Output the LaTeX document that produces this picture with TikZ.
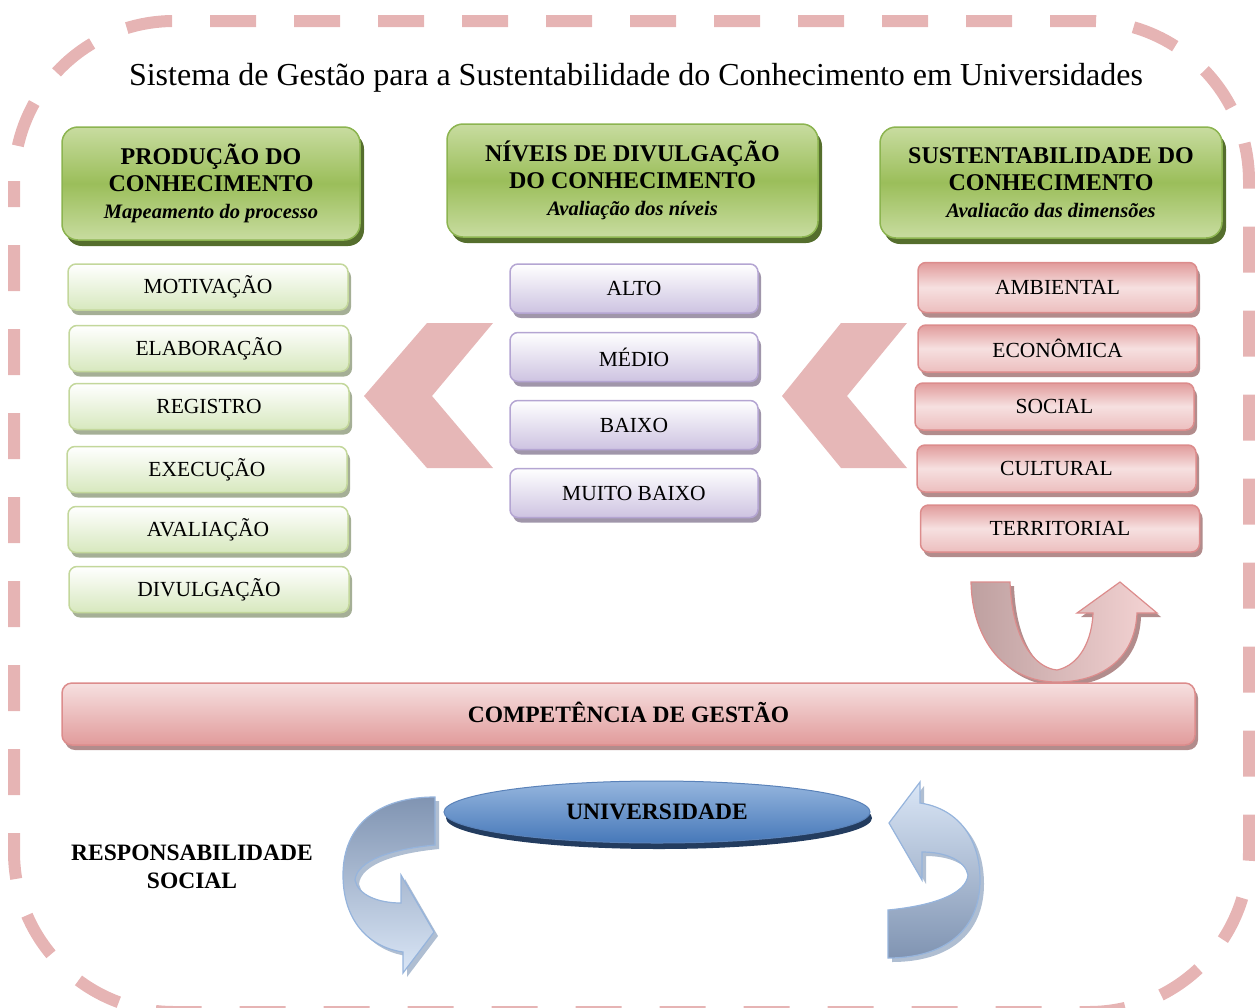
\documentclass[tikz,border=0pt]{standalone}
\usepackage{fontspec}
\setmainfont{Liberation Serif}
\usetikzlibrary{shadows,shapes.geometric}
\definecolor{dashc}{RGB}{230,180,180}
\definecolor{hdrL}{RGB}{200,220,160}
\definecolor{hdrD}{RGB}{155,190,90}
\definecolor{hdrB}{RGB}{140,180,80}
\definecolor{hdrS}{RGB}{85,110,45}
\definecolor{gL}{RGB}{215,232,190}
\definecolor{gB}{RGB}{195,215,155}
\definecolor{gS}{RGB}{165,175,150}
\definecolor{puL}{RGB}{205,195,225}
\definecolor{puB}{RGB}{180,165,210}
\definecolor{puS}{RGB}{160,150,170}
\definecolor{pkD}{RGB}{225,155,155}
\definecolor{pkL}{RGB}{246,224,224}
\definecolor{pkM}{RGB}{236,190,190}
\definecolor{pkB}{RGB}{220,140,140}
\definecolor{pkS}{RGB}{178,140,140}
\definecolor{chev}{RGB}{230,183,183}
\definecolor{blT}{RGB}{150,182,222}
\definecolor{blD}{RGB}{70,120,185}
\definecolor{blS}{RGB}{35,60,95}
\definecolor{blB}{RGB}{90,130,185}
\definecolor{arL}{RGB}{218,230,246}
\definecolor{arD}{RGB}{128,148,178}
\definecolor{arB}{RGB}{150,180,220}
\definecolor{arS}{RGB}{175,190,210}
\definecolor{uL}{RGB}{245,212,212}
\definecolor{uD}{RGB}{190,160,160}
\begin{document}
\begin{tikzpicture}[x=1pt,y=-1pt,
  hdr/.style={draw=hdrB, line width=1.5pt, rounded corners=16pt,
    top color=hdrL, bottom color=hdrL, middle color=hdrD, align=center, inner sep=0pt,
    font=\fontsize{24}{27}\selectfont\bfseries,
    drop shadow={shadow xshift=4pt, shadow yshift=-6pt, fill=hdrS, opacity=1}},
  gbox/.style={draw=gB, line width=1.5pt, rounded corners=8pt, top color=white, bottom color=gL,
    minimum width=280pt, minimum height=46pt, inner sep=0pt, font=\fontsize{21.5}{25}\selectfont,
    drop shadow={shadow xshift=3pt, shadow yshift=-5pt, fill=gS, opacity=1}},
  pbox/.style={draw=puB, line width=1.5pt, rounded corners=8pt, top color=white, bottom color=puL,
    minimum width=248pt, minimum height=49pt, inner sep=0pt, font=\fontsize{21.5}{25}\selectfont,
    drop shadow={shadow xshift=3pt, shadow yshift=-5pt, fill=puS, opacity=1}},
  rbox/.style={draw=pkB, line width=1.5pt, rounded corners=8pt, top color=pkD, bottom color=pkM, middle color=pkL,
    minimum width=279pt, minimum height=47pt, inner sep=0pt, font=\fontsize{21.5}{25}\selectfont,
    drop shadow={shadow xshift=3pt, shadow yshift=-5pt, fill=pkS, opacity=1}},
  rarr/.style={insert path={(888,958) -- (888,910) .. controls (930,906) and (966,895) .. (968,875)
    .. controls (965,860) and (945,852) .. (922,852) -- (922,880) -- (889,823) -- (920,782) -- (920,803)
    .. controls (955,808) and (980,835) .. (980,880) .. controls (980,930) and (945,958) .. (888,958) -- cycle}},
  uarr/.style={insert path={(971,582) -- (1010,582) .. controls (1012,640) and (1035,668) .. (1057,670)
    .. controls (1080,665) and (1092,640) .. (1093,613) -- (1077,613) -- (1120,582) -- (1157,613) -- (1137,613)
    .. controls (1135,660) and (1100,682) .. (1057,682) .. controls (1005,682) and (972,640) .. (971,582) -- cycle}}
]
\useasboundingbox (0,0) rectangle (1255,1007);
% dashed frame
\draw[dashc, line width=12pt, dash pattern=on 46pt off 38pt, dash phase=20pt, rounded corners=160pt]
  (14,21) rectangle (1249,1012);
% title
\node[font=\fontsize{32}{36}\selectfont] (title) at (636,78) {Sistema de Gestão para a Sustentabilidade do Conhecimento em Universidades};
% headers
\node[hdr, minimum width=298pt, minimum height=113pt] (prod) at (211,183.5)
  {PRODUÇÃO DO\\CONHECIMENTO\\{\fontsize{20.5}{27}\selectfont\itshape Mapeamento do processo}};
\node[hdr, minimum width=371pt, minimum height=113pt] (niv) at (632.5,180.5)
  {NÍVEIS DE DIVULGAÇÃO\\DO CONHECIMENTO\\{\fontsize{20.5}{27}\selectfont\itshape Avaliação dos níveis}};
\node[hdr, minimum width=342pt, minimum height=111pt] (sus) at (1051,182.5)
  {SUSTENTABILIDADE DO\\CONHECIMENTO\\{\fontsize{20.5}{27}\selectfont\itshape Avaliacão das dimensões}};
% chevrons
\fill[chev] (427,323) -- (493,323) -- (432,396) -- (493,468) -- (427,468) -- (364,396) -- cycle;
\fill[chev] (841,323) -- (907,323) -- (847,396) -- (907,468) -- (841,468) -- (782,396) -- cycle;
% left boxes
\node[gbox] (mot) at (208,287) {MOTIVAÇÃO};
\node[gbox] (ela) at (209,348.5) {ELABORAÇÃO};
\node[gbox] (reg) at (209,406.5) {REGISTRO};
\node[gbox] (exe) at (207,469.5) {EXECUÇÃO};
\node[gbox] (ava) at (208,529.5) {AVALIAÇÃO};
\node[gbox] (div) at (209,589.5) {DIVULGAÇÃO};
% middle boxes
\node[pbox] (alto) at (634,288.5) {ALTO};
\node[pbox] (medio) at (634,357) {MÉDIO};
\node[pbox] (baixo) at (634,425) {BAIXO};
\node[pbox] (mbaixo) at (634,493) {MUITO BAIXO};
% right boxes
\node[rbox, minimum height=50pt] (amb) at (1057.5,287.5) {AMBIENTAL};
\node[rbox] (eco) at (1057.5,348.5) {ECONÔMICA};
\node[rbox] (soc) at (1054.5,406.5) {SOCIAL};
\node[rbox] (cul) at (1056.5,468.5) {CULTURAL};
\node[rbox] (ter) at (1060,528.5) {TERRITORIAL};
% U arrow
\begin{scope}[shift={(4,4)}]
\fill[pkS] [uarr];
\end{scope}
\shade[left color=uD, right color=uL, draw=pkB, line width=1.2pt] [uarr];
% competencia bar
\node[draw=pkB, line width=1.5pt, rounded corners=10pt, top color=pkL, bottom color=pkD,
  minimum width=1133pt, minimum height=62pt, inner sep=0pt,
  drop shadow={shadow xshift=3pt, shadow yshift=-5pt, fill=pkS, opacity=1},
  font=\fontsize{23.5}{27}\selectfont\bfseries] (comp) at (628.5,714) {\raisebox{0pt}[16pt][0pt]{COMPETÊNCIA DE GESTÃO}};
% universidade
\node[ellipse, draw=blB, line width=1pt, top color=blT, bottom color=blD, minimum width=426pt, minimum height=62pt,
  inner sep=0pt, drop shadow={shadow xshift=2pt, shadow yshift=-6pt, fill=blS, opacity=1},
  font=\fontsize{23.5}{27}\selectfont\bfseries] (univ) at (657,812) {UNIVERSIDADE};
% responsabilidade social
\node[align=center, font=\fontsize{23.5}{28}\selectfont\bfseries] (resp) at (192,867) {RESPONSABILIDADE\\SOCIAL};
% blue arrow shadows
\begin{scope}[shift={(4,4)}]
\fill[arS] [rarr];
\fill[arS, rotate around={180:(661.5,877.5)}] [rarr];
\end{scope}
% right blue arrow
\shade[top color=arL, bottom color=arD, draw=arB, line width=1.2pt] [rarr];
% left blue arrow (same ribbon turned half a turn)
\shade[top color=arD, bottom color=arL, draw=arB, line width=1.2pt, rotate around={180:(661.5,877.5)}] [rarr];
\end{tikzpicture}
\end{document}
